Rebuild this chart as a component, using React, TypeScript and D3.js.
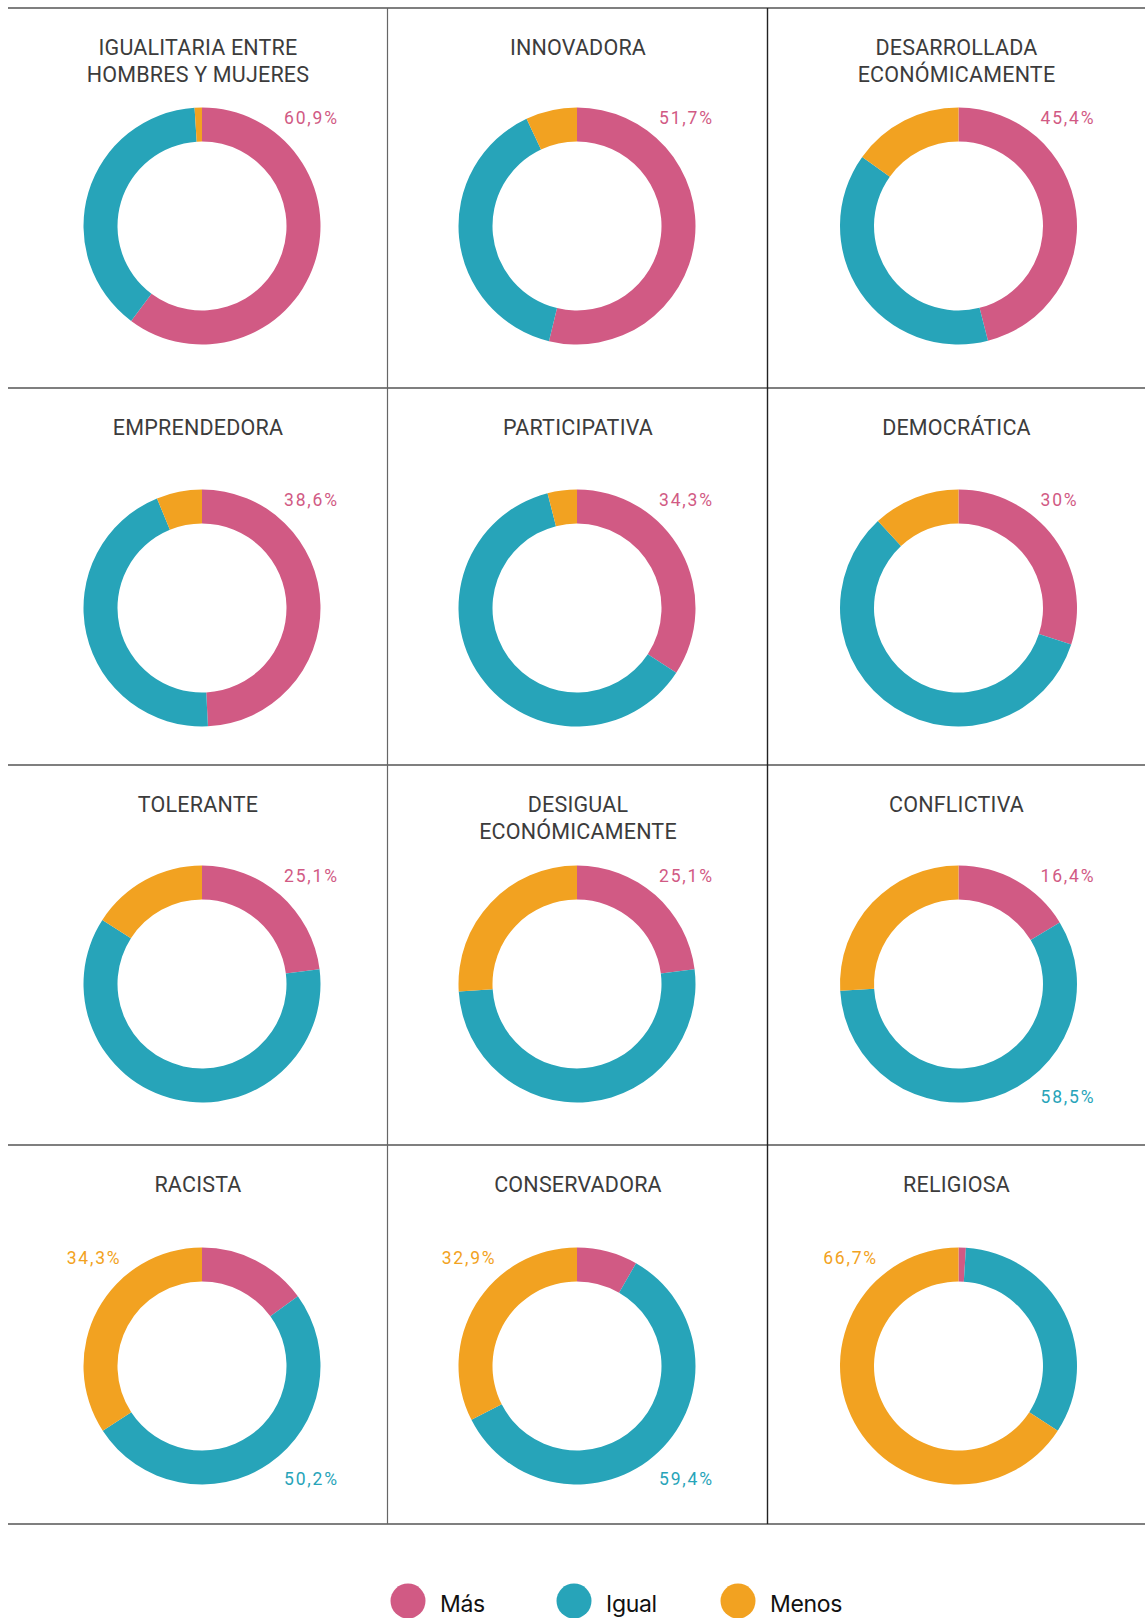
import React from "react";
import * as d3 from "d3";

// ---- data ----
const titles: string[][] = [
  ["IGUALITARIA ENTRE", "HOMBRES Y MUJERES"],
  ["INNOVADORA"],
  ["DESARROLLADA", "ECONÓMICAMENTE"],
  ["EMPRENDEDORA"],
  ["PARTICIPATIVA"],
  ["DEMOCRÁTICA"],
  ["TOLERANTE"],
  ["DESIGUAL", "ECONÓMICAMENTE"],
  ["CONFLICTIVA"],
  ["RACISTA"],
  ["CONSERVADORA"],
  ["RELIGIOSA"],
];
const series = ["Más", "Igual", "Menos"];
const mas = [60.2, 53.8, 46.0, 49.2, 34.2, 30.0, 23.0, 23.0, 16.3, 15.0, 8.3, 1.0];
const igual = [38.8, 39.2, 38.9, 44.6, 61.8, 58.1, 61.1, 51.0, 57.8, 50.8, 59.2, 33.2];
const menos = [1.0, 7.0, 15.1, 6.2, 4.0, 11.9, 15.9, 26.0, 25.9, 34.2, 32.5, 65.8];
const labelMas = ["60,9%", "51,7%", "45,4%", "38,6%", "34,3%", "30%", "25,1%", "25,1%", "16,4%", "", "", ""];
const labelIgual = ["", "", "", "", "", "", "", "", "58,5%", "50,2%", "59,4%", ""];
const labelMenos = ["", "", "", "", "", "", "", "", "", "34,3%", "32,9%", "66,7%"];

// ---- style / layout ----
const COLORS = ["#d15a84", "#27a4b9", "#f2a221"];
const W = 1145;
const H = 1618;
const rowLines = [8, 388, 765, 1145, 1524];
const rowCenters = [226, 608, 984, 1366];
const colCenters = [202, 577, 958.5];
const titleCenters = [198, 578, 956.5];
const colLines = [387.5, 767.5];
const R_OUT = 118.5;
const R_IN = 84.5;
const TITLE_FONT = "Roboto, 'DejaVu Sans', sans-serif";

export default function App() {
  const pie = d3
    .pie<number>()
    .sort(null)
    .value((d) => d);
  const arc = d3
    .arc<d3.PieArcDatum<number>>()
    .innerRadius(R_IN)
    .outerRadius(R_OUT);

  const labelStyle = { fontFamily: TITLE_FONT, fontSize: 17.5, letterSpacing: 1.8 };

  return (
    <svg
      width={W}
      height={H}
      style={{ position: "absolute", left: 0, top: 0, background: "#fff" }}
    >
      {/* grid lines */}
      {rowLines.map((y, i) => (
        <line key={"h" + i} x1={8} x2={W} y1={y} y2={y} stroke="#555" strokeWidth={1.6} />
      ))}
      <line x1={colLines[0]} x2={colLines[0]} y1={rowLines[0]} y2={rowLines[4]} stroke="#666" strokeWidth={1.2} />
      <line x1={colLines[1]} x2={colLines[1]} y1={rowLines[0]} y2={rowLines[4]} stroke="#222" strokeWidth={1.4} />

      {titles.map((t, i) => {
        const r = Math.floor(i / 3);
        const c = i % 3;
        const cx = colCenters[c];
        const cy = rowCenters[r];
        const vals = [mas[i], igual[i], menos[i]];
        const arcs = pie(vals);
        return (
          <g key={i}>
            <text
              x={titleCenters[c]}
              y={rowLines[r] + 47}
              textAnchor="middle"
              fontFamily={TITLE_FONT}
              fontSize={21.5}
              fill="#3c3c3c"
              letterSpacing={0.2}
            >
              {t.map((line, k) => (
                <tspan key={k} x={titleCenters[c]} dy={k === 0 ? 0 : 26.5}>
                  {line}
                </tspan>
              ))}
            </text>
            <g transform={`translate(${cx},${cy})`}>
              {arcs.map((a, k) => (
                <path key={k} d={arc(a) || ""} fill={COLORS[k]} />
              ))}
            </g>
            {labelMas[i] && (
              <text x={cx + 82} y={cy - 102} {...labelStyle} fill={COLORS[0]}>
                {labelMas[i]}
              </text>
            )}
            {labelIgual[i] && (
              <text x={cx + 82} y={cy + 119} {...labelStyle} fill={COLORS[1]}>
                {labelIgual[i]}
              </text>
            )}
            {labelMenos[i] && (
              <text x={cx - 80.5} y={cy - 102} textAnchor="end" {...labelStyle} fill={COLORS[2]}>
                {labelMenos[i]}
              </text>
            )}
          </g>
        );
      })}

      {/* legend */}
      {series.map((s, k) => {
        const lx = [408, 574, 738][k];
        return (
          <g key={s}>
            <circle cx={lx} cy={1601} r={17.5} fill={COLORS[k]} />
            <text x={lx + 32} y={1612} fontFamily="Inter, 'Noto Sans', sans-serif" fontSize={23} fill="#111" letterSpacing={-0.3}>
              {s}
            </text>
          </g>
        );
      })}
    </svg>
  );
}
